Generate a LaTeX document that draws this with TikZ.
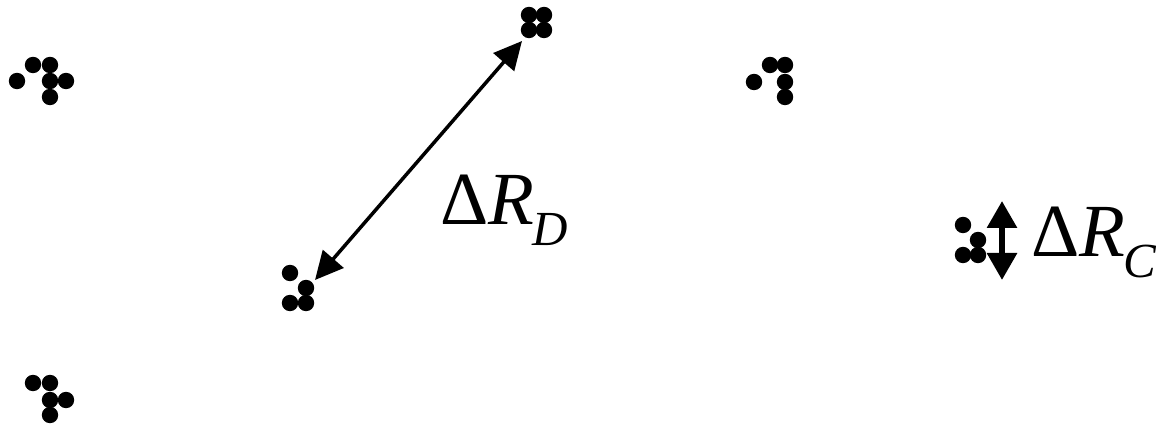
\documentclass[tikz,border=0pt]{standalone}
\usepackage{fontspec}
\setmainfont{Liberation Serif}
\usetikzlibrary{arrows.meta}
\tikzset{
  dot/.style={fill=black,draw=none},
  darrow/.style={line width=3.5pt,{Triangle[length=28pt,width=27pt]}-{Triangle[length=28pt,width=27pt]}},
  varrow/.style={line width=6pt,{Triangle[length=27pt,width=29pt]}-{Triangle[length=27pt,width=29pt]}},
  lbl/.style={inner sep=0pt,anchor=base west,font=\fontsize{75}{80}\selectfont}
}
\newcommand{\dotr}{8.2}
\newcommand{\subtxt}[1]{\kern-2pt\raisebox{-21pt}{\fontsize{49}{50}\selectfont\textit{#1}}}
\begin{document}
\begin{tikzpicture}[x=1pt,y=-1pt]
\useasboundingbox (0,0) rectangle (1156,427);
% top-left cluster
\foreach \p in {(17,81),(33,65),(50,65),(50,81),(66,81),(50,97)} \fill[dot] \p circle (\dotr);
% top cluster
\foreach \p in {(529,15),(544,15),(529,30),(544,30)} \fill[dot] \p circle (\dotr);
% top-right cluster
\foreach \p in {(754,82),(770,65),(785,65),(785,82),(785,97)} \fill[dot] \p circle (\dotr);
% bottom-left cluster
\foreach \p in {(33,383),(50,383),(50,400),(66,400),(50,415)} \fill[dot] \p circle (\dotr);
% middle cluster
\foreach \p in {(290,273),(306,288),(290,303),(306,303)} \fill[dot] \p circle (\dotr);
% right cluster
\foreach \p in {(963,225),(978,240),(963,255),(978,255)} \fill[dot] \p circle (\dotr);
% arrows
\coordinate (dA) at (522,41);
\coordinate (dB) at (315,280);
\draw[darrow] (dA) -- (dB);
\coordinate (cA) at (1002,201);
\coordinate (cB) at (1002,280);
\draw[varrow] (cA) -- (cB);
% labels
\node[lbl] (lD) at (440,225) {Δ\textit{R}\subtxt{D}};
\node[lbl] (lC) at (1031,257) {Δ\textit{R}\subtxt{C}};
\end{tikzpicture}
\end{document}
